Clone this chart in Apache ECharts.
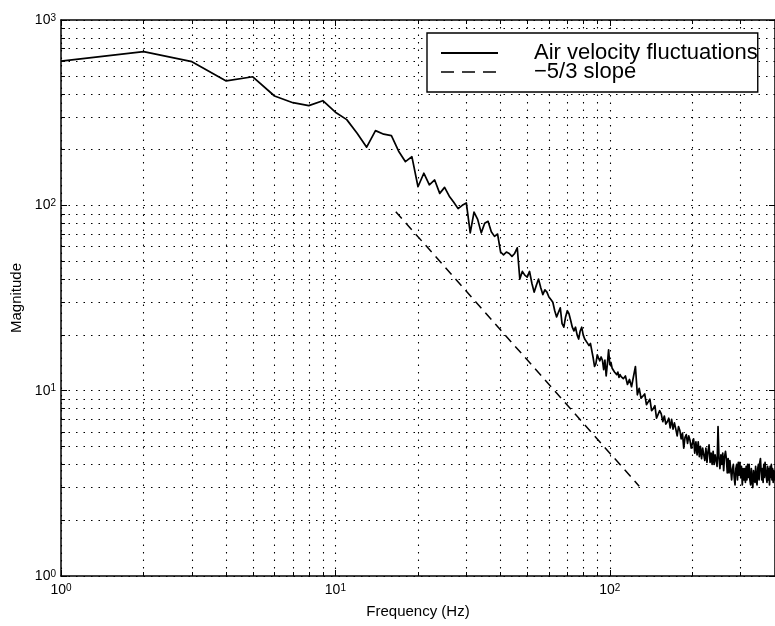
<!DOCTYPE html>
<html><head><meta charset="utf-8">
<script src="https://cdn.jsdelivr.net/npm/echarts@6/dist/echarts.min.js"></script>
<style>html,body{margin:0;padding:0;background:#fff}#c{width:775px;height:626px}</style>
</head><body><div id="c"></div>
<script>
// ---- data ----
const seriesNames = ['Air velocity fluctuations', '\u22125/3 slope'];
const freqHz = [
  1,2,3,4,5,6,7,8,9,10,
  11,12,13,14,15,16,17,18,19,20,
  21,22,23,24,25,26,27,28,29,30,
  31,32,33,34,35,36,37,38,39,40,
  41,42,43,44,45,46,47,48,49,50,
  51,52,53,54,55,56,57,58,59,60,
  61,62,63,64,65,66,67,68,69,70,
  71,72,73,74,75,76,77,78,79,80,
  81,82,83,84,85,86,87,88,89,90,
  91,92,93,94,95,96,97,98,99,100,
  101,102,103,104,105,106,107,108,109,110,
  112,114,116,118,120,122,124,126,128,130,
  132,134,136,138,140,142,144,146,148,150,
  152,154,156,158,160,162,164,166,168,170,
  172,174,176,178,180,182,184,186,188,190,
  192,194,196,198,
  200,202,204,206,208,210,212,214,216,218,
  220,222,224,226,228,230,232,234,236,238,
  240,242,244,246,248,250,252,254,256,258,
  260,262,264,266,268,270,272,274,276,278,
  280,282,284,286,288,290,292,294,296,298,
  300,302,304,306,308,310,312,314,316,318,
  320,322,324,326,328,330,332,334,336,338,
  340,342,344,346,348,350,352,354,356,358,
  360,362,364,366,368,370,372,374,376,378,
  380,382,384,386,388,390,392,394,396,398,
  400
];
const magnitude = [
  600,675,596,469,494,389,358,345,367,318,
  290,245,206,253,242,238,196,172,183,126,
  149,129,137,116,125,112,104,96,100,103,
  71,92,84,71,80,82,72,68,70,56,
  54,56,55,53,55,59,40,44,42,41,
  44,38,34,37,40,36,33,35,34,32,
  31,30,27,25,25,28,23,22,25,27,
  26,24,22,21,22,20,19,21,22,20,
  19,19,18,17.5,18,17.6,15,13.5,14,15.6,
  15,14.5,15.2,14.6,13,14.6,12,14,16.6,13.8,
  14.2,13.2,13.5,12.6,12.9,12.2,12.6,11.8,12.2,11.9,
  11.6,12.0,10.8,11.5,10.5,10.6,13.5,9.5,10.3,9.1,
  9.3,9.6,8.4,8.6,9.0,7.8,8.0,8.3,7.1,7.0,
  7.8,7.5,6.8,7.3,6.6,6.8,7.1,6.3,7.0,6.2,
  6.7,6.2,5.7,6.4,6.1,5.5,5.9,4.9,5.6,5.8,
  5.2,5.7,5.4,4.9,
  4.9,5.5,4.6,5.3,4.5,5.3,4.4,5.0,4.3,4.9,
  4.5,4.2,4.9,4.1,4.7,5.1,4.1,4.6,4.0,4.7,
  4.0,4.5,4.6,3.9,6.4,4.3,3.8,4.5,4.0,4.6,
  3.7,4.4,4.7,4.3,3.6,4.3,3.6,4.2,3.7,3.3,
  3.8,4.0,3.4,3.1,3.8,4.0,3.3,4.1,3.5,4.1,
  3.4,3.9,3.1,3.8,3.3,3.8,3.2,3.9,3.3,4.0,
  3.4,4.0,3.3,3.1,3.8,3.3,3.0,3.7,3.7,3.2,
  3.9,3.3,3.1,3.8,4.0,3.3,4.1,4.3,3.7,3.3,
  3.8,3.2,4.0,3.4,4.1,4.0,3.4,3.2,3.9,3.3,
  3.8,3.1,3.9,3.4,4.0,3.3,3.8,3.2,3.7,3.3,
  3.7
];
const slopeFreq = [16.6, 128];
const slopeMag = [92.4, 3.05];
const xMinorGrid = [2,3,4,5,6,7,8,9,20,30,40,50,60,70,80,90,200,300];
const yMinorGrid = [2,3,4,5,6,7,8,9,20,30,40,50,60,70,80,90,200,300,400,500,600,700,800,900];
const xRange = [1, 400];
const yRange = [1, 1000];

// ---- chart ----
const FONT = 'Liberation Sans, Arial, Helvetica, sans-serif';
const GRID = { left: 61, top: 20, width: 716, height: 556 };
const dotted = { color: '#000', width: 1.1, type: [1.5, 6] };
function pow10Label(v) {
  const e = Math.log10(v), r = Math.round(e);
  if (Math.abs(e - r) > 1e-6) return '';
  return '{b|10}{s|' + r + '}';
}
const rich = {
  b: { fontSize: 14, lineHeight: 14, fontFamily: FONT, color: '#000', padding: [5, 0, 0, 0], verticalAlign: 'bottom' },
  s: { fontSize: 10, lineHeight: 10, fontFamily: FONT, color: '#000', verticalAlign: 'top' }
};
const axLine = { show: true, onZero: false, lineStyle: { color: '#000', width: 1.5 } };
const axTick = { show: true, inside: true, length: 6, lineStyle: { color: '#000', width: 1 } };

// minor tick marks (4 px long) placed through the axes' own log scales
const minorLen = 4;
const yDecadePx = GRID.height / Math.log10(yRange[1] / yRange[0]);
const xDecadePx = GRID.width / Math.log10(xRange[1] / xRange[0]);
const yTickF = Math.pow(10, minorLen / yDecadePx);
const xTickF = Math.pow(10, minorLen / xDecadePx);
const minorTickLines = []
  .concat(xMinorGrid.map(v => [{ coord: [v, yRange[0]] }, { coord: [v, yRange[0] * yTickF] }]))
  .concat(xMinorGrid.map(v => [{ coord: [v, yRange[1]] }, { coord: [v, yRange[1] / yTickF] }]))
  .concat(yMinorGrid.map(v => [{ coord: [xRange[0], v] }, { coord: [xRange[0] * xTickF, v] }]));

const chart = echarts.init(document.getElementById('c'), null, { renderer: 'canvas' });
chart.setOption({
  animation: false,
  backgroundColor: '#fff',
  grid: Object.assign({ containLabel: false }, GRID),
  xAxis: [{
    type: 'log', logBase: 10, min: xRange[0], max: xRange[1], position: 'bottom',
    name: 'Frequency (Hz)', nameLocation: 'middle', nameGap: 28,
    nameTextStyle: { fontSize: 15, fontFamily: FONT, color: '#000' },
    axisLine: axLine, axisTick: axTick,
    axisLabel: { margin: 7, formatter: pow10Label, rich: rich, showMaxLabel: false },
    splitLine: { show: true, lineStyle: dotted }
  }, {
    type: 'log', logBase: 10, min: xRange[0], max: xRange[1], position: 'top',
    axisLine: axLine, axisTick: axTick, axisLabel: { show: false }, splitLine: { show: false }
  }],
  yAxis: [{
    type: 'log', logBase: 10, min: yRange[0], max: yRange[1], position: 'left',
    name: 'Magnitude', nameLocation: 'middle', nameGap: 36,
    nameTextStyle: { fontSize: 15, fontFamily: FONT, color: '#000' },
    axisLine: axLine, axisTick: axTick,
    axisLabel: { margin: 5, formatter: pow10Label, rich: rich },
    splitLine: { show: true, lineStyle: dotted }
  }, {
    type: 'log', logBase: 10, min: yRange[0], max: yRange[1], position: 'right',
    axisLine: axLine, axisTick: axTick, axisLabel: { show: false }, splitLine: { show: false }
  }],
  legend: {
    left: 427, top: 33, orient: 'vertical',
    data: [
      { name: seriesNames[0] },
      { name: seriesNames[1], lineStyle: { type: [13, 8], width: 1.5 } }
    ],
    icon: 'inherit',
    itemWidth: 57, itemHeight: 12, itemGap: -3,
    padding: [9, 0, 9, 13],
    borderColor: '#000', borderWidth: 1.4, backgroundColor: '#fff',
    itemStyle: { opacity: 0 },
    textStyle: { fontSize: 22, lineHeight: 20, fontFamily: FONT, color: '#000', padding: [0, 0, 0, 31] },
    selectedMode: false, z: 20
  },
  series: [{
    name: 'grid-minor', type: 'line', data: [], silent: true, z: 1,
    markLine: {
      silent: true, symbol: 'none', label: { show: false }, animation: false,
      lineStyle: dotted, emphasis: { disabled: true },
      data: xMinorGrid.map(v => ({ xAxis: v })).concat(yMinorGrid.map(v => ({ yAxis: v })))
    }
  }, {
    name: 'tick-minor', type: 'line', data: [], silent: true, z: 6,
    markLine: {
      silent: true, symbol: 'none', label: { show: false }, animation: false,
      lineStyle: { color: '#000', width: 1, type: 'solid' }, emphasis: { disabled: true },
      data: minorTickLines
    }
  }, {
    name: seriesNames[0], type: 'line', symbol: 'none', z: 5,
    data: freqHz.map((f, i) => [f, magnitude[i]]),
    lineStyle: { color: '#000', width: 1.7, join: 'round' }, itemStyle: { color: '#000' }
  }, {
    name: seriesNames[1], type: 'line', symbol: 'none', z: 5,
    data: slopeFreq.map((f, i) => [f, slopeMag[i]]),
    lineStyle: { color: '#000', width: 1.5, type: [9, 6] }, itemStyle: { color: '#000' }
  }]
});
</script>
</body></html>
